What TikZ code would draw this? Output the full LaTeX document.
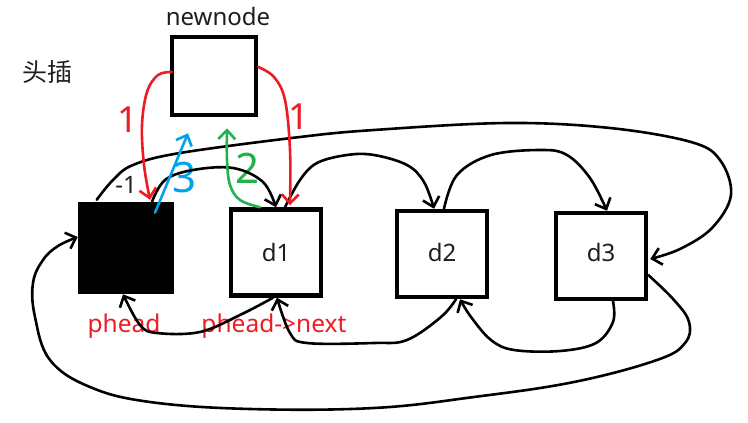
\documentclass[tikz,border=0pt]{standalone}
\usepackage{fontspec}
\setmainfont{Noto Sans}
\newfontfamily\cjk{Noto Sans CJK SC}
\usetikzlibrary{arrows.meta,calc}
\definecolor{pred}{RGB}{237,28,36}
\definecolor{pgreen}{RGB}{34,177,76}
\definecolor{pblue}{RGB}{0,162,232}
\definecolor{ptext}{RGB}{30,30,30}
\begin{document}
\begin{tikzpicture}[x=1pt,y=-1pt,
  box/.style={draw=black,line width=4.5pt,minimum width=90pt,minimum height=86pt,inner sep=0pt,font=\fontsize{24}{28}\selectfont,text=ptext},
  link/.style={line width=2.6pt,-{Straight Barb[length=9pt,width=17pt]},line cap=round,line join=round},
  lbl/.style={font=\fontsize{24}{28}\selectfont,text=ptext,inner sep=0pt},
  redlbl/.style={font=\fontsize{24.5}{28}\selectfont,text=pred,inner sep=0pt},
  hand/.style={font=\fontsize{42}{42}\selectfont,inner sep=0pt},
  ]
\useasboundingbox (0,0) rectangle (748,423);
\fill[white] (0,0) rectangle (748,423);
% boxes
\node[box,minimum width=84pt,minimum height=78pt] (nn) at (214,76) {};
\node[box,fill=black,minimum width=92pt,minimum height=88pt] (ph) at (126,248) {};
\node[box] (d1) at (276,252.5) {d1};
\node[box] (d2) at (442,254) {\raisebox{4pt}{d2}};
\node[box] (d3) at (601,256) {\raisebox{7pt}{d3}};
% labels
\node[lbl] (nnl) at (218,17) {newnode};
\node[font=\cjk\fontsize{25}{28}\selectfont,text=ptext,inner sep=0pt] (tc) at (48,72) {头插};
\node[lbl] (m1) at (126,185) {-1};
\node[redlbl] (phl) at (124,326) {phead};
\node[redlbl] (pnl) at (274,326) {phead->next};
\node[hand,text=pred,font=\fontsize{36}{36}\selectfont] (r1a) at (128,120) {1};
\node[hand,text=pred,font=\fontsize{36}{36}\selectfont] (r1b) at (299,117) {1};
\node[hand,text=pgreen] (g2) at (248,168) {2};
\node[hand,text=pblue] (b3) at (185,178) {3};
% black links
\draw[link] plot[smooth,tension=0.6] coordinates {($(ph.north west)+(19,-2)$) (113,180) (133,165) (180,153) (300,137) (374,130) (507,123) (610,128) (691,142) (720,160) (731,195) (712,228) (680,249) ($(d3.east)+(2,3)$)};
\draw[link] plot[smooth,tension=0.6] coordinates {($(ph.north)+(26,0)$) (165,180) (193,170) (233,168) (263,182) (d1.north)};
\draw[link] plot[smooth,tension=0.6] coordinates {($(d1.north)+(9,0)$) (300,180) (317,163) (347,155) (374,155) (407,165) (424,182) ($(d2.north)+(-8,0)$)};
\draw[link] plot[smooth,tension=0.6] coordinates {($(d2.north)+(2,0)$) (457,175) (491,155) (541,150) (567,155) (590,178) ($(d3.north)+(6,0)$)};
\draw[link] plot[smooth,tension=0.6] coordinates {($(d1.south)+(-3,0)$) (240,315) (200,332) (157,333) (140,325) ($(ph.south)+(-3,0)$)};
\draw[link] plot[smooth,tension=0.6] coordinates {($(d2.south)+(14,0)$) (441,317) (407,340) (374,343) (307,343) (290,333) ($(d1.south)+(1,0)$)};
\draw[link] plot[smooth,tension=0.6] coordinates {($(d3.south)+(12,0)$) (613,322) (596,343) (560,351) (514,350) (491,340) (471,317) ($(d2.south)+(18,0)$)};
\draw[link] plot[smooth,tension=0.65] coordinates {($(d3.east)+(0,19)$) (674,300) (689,322) (685,343) (657,360) (574,382) (474,397) (374,408) (250,409) (150,402) (90,387) (50,360) (35,317) (33,283) (43,260) (58,246) ($(ph.west)+(0,-11)$)};
% coloured steps
\draw[link,draw=pred] plot[smooth,tension=0.6] coordinates {($(nn.west)+(2,-4)$) (158,75) (147,92) (142,125) (144,165) ($(ph.north)+(24,-2)$)};
\draw[link,draw=pred] plot[smooth,tension=0.6] coordinates {($(nn.east)+(0,-9)$) (274,77) (285,100) (290,150) ($(d1.north)+(14,-2)$)};
\draw[link,draw=pgreen] plot[smooth,tension=0.6] coordinates {($(d1.north)+(-16,0)$) (240,200) (230,185) (227,160) ($(nn.south)+(13,11)$)};
\draw[link,draw=pblue] ($(ph.north)+(29,11)$) -- ($(nn.south)+(-26,16)$);
\end{tikzpicture}
\end{document}
